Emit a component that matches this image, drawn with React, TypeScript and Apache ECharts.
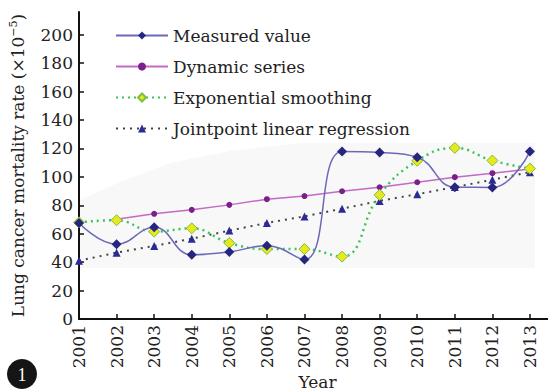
import React, { useEffect, useRef } from "react";
import * as echarts from "echarts";

const years = [2001, 2002, 2003, 2004, 2005, 2006, 2007, 2008, 2009, 2010, 2011, 2012, 2013];
const measured = [67.5, 52.6, 64.6, 45.2, 47.2, 51.6, 41.8, 117.8, 117.1, 113.8, 92.7, 92.6, 117.8];
const dynamicYears = [2002, 2003, 2004, 2005, 2006, 2007, 2008, 2009, 2010, 2011, 2012, 2013];
const dynamicSeries = [70.2, 74, 76.8, 80.3, 84.3, 86.5, 89.9, 92.7, 96.2, 99.8, 102.6, 105.6];
const expSmoothing = [68, 69.5, 61.5, 63.8, 53.5, 49.2, 49.2, 43.9, 87.3, 111.3, 120.4, 111.5, 105.8];
const jointpoint = [41, 46.7, 51.4, 56.5, 62.2, 67.6, 72.2, 77.6, 83.1, 87.8, 92.8, 98, 103.3];
const yTicks = [0, 20, 40, 60, 80, 100, 120, 140, 160, 180, 200];
const seriesNames = ["Measured value", "Dynamic series", "Exponential smoothing", "Jointpoint linear regression"];

const FONT = "'DejaVu Serif', 'Liberation Serif', serif";

export default function App() {
  const ref = useRef<HTMLDivElement>(null);
  useEffect(() => {
    if (!ref.current) return;
    const chart = echarts.init(ref.current, undefined, { renderer: "svg" });
    const pair = (xs: number[], vs: number[]) => xs.map((x, i) => [x, vs[i]]);
    chart.setOption({
      animation: false,
      backgroundColor: "#ffffff",
      textStyle: { fontFamily: FONT },
      grid: { left: 79, right: 0, top: 12, bottom: 72, containLabel: false, outerBoundsMode: "none" },
      legend: {
        orient: "vertical",
        left: 110,
        top: 22,
        itemWidth: 52,
        itemHeight: 10,
        itemGap: 14,
        data: seriesNames,
        textStyle: { fontFamily: FONT, fontSize: 17, color: "#222" },
      },
      graphic: [
        {
          type: "polygon",
          z: 0,
          silent: true,
          shape: {
            points: [
              [80, 200], [120, 182], [170, 163], [230, 151], [300, 143],
              [535, 143], [535, 268], [80, 268],
            ],
          },
          style: { fill: "#f8f8f8" },
        },
        {
          type: "circle",
          shape: { cx: 22, cy: 374, r: 15 },
          style: { fill: "#151515" },
        },
        {
          type: "text",
          x: 22,
          y: 375,
          style: {
            text: "1",
            fill: "#fff",
            font: `18px 'Liberation Serif', serif`,
            align: "center",
            verticalAlign: "middle",
          },
        },
      ],
      xAxis: {
        type: "value",
        min: 2001,
        max: 2013.48,
        interval: 1,
        name: "Year",
        nameLocation: "middle",
        nameGap: 54,
        nameMoveOverlap: false,
        nameTextStyle: { fontFamily: FONT, fontSize: 17, color: "#222", padding: [0, 0, 0, 8] },
        axisLine: { lineStyle: { color: "#111", width: 2 } },
        axisTick: { inside: true, length: 5, lineStyle: { color: "#111", width: 1.5 }, customValues: years },
        axisLabel: {
          rotate: 90,
          margin: 6,
          fontFamily: FONT,
          fontSize: 17,
          color: "#222",
          customValues: years,
          formatter: (v: number) => String(v),
        },
        splitLine: { show: false },
      },
      yAxis: {
        type: "value",
        min: 0,
        max: 216,
        interval: 20,
        name: "Lung cancer mortality rate (×10{sup|−5})",
        nameLocation: "middle",
        nameGap: 52,
        nameMoveOverlap: false,
        nameTextStyle: {
          fontFamily: FONT,
          fontSize: 17,
          color: "#222",
          rich: { sup: { fontFamily: FONT, fontSize: 11, color: "#222", verticalAlign: "top", padding: [0, 0, 8, 0] } },
        },
        axisLine: { show: true, lineStyle: { color: "#111", width: 2 } },
        axisTick: { show: true, inside: true, length: 5, lineStyle: { color: "#111", width: 1.5 }, customValues: yTicks },
        axisLabel: { margin: 6, fontFamily: FONT, fontSize: 17, color: "#222", customValues: yTicks },
        splitLine: { show: false },
      },
      series: [
        {
          name: seriesNames[0],
          type: "line",
          smooth: 0.45,
          data: pair(years, measured),
          symbol: "diamond",
          symbolSize: 10,
          itemStyle: { color: "#262680" },
          lineStyle: { color: "#6c68b8", width: 1.5 },
          z: 5,
        },
        {
          name: seriesNames[1],
          type: "line",
          data: pair(dynamicYears, dynamicSeries),
          symbol: "circle",
          symbolSize: 6,
          itemStyle: { color: "#7b1f8c" },
          lineStyle: { color: "#c36ac6", width: 1.5 },
          z: 3,
        },
        {
          name: seriesNames[2],
          type: "line",
          smooth: 0.45,
          data: pair(years, expSmoothing),
          symbol: "diamond",
          symbolSize: 11,
          itemStyle: { color: "#e8e81a", borderColor: "#7ac043", borderWidth: 1 },
          lineStyle: { color: "#3cc35a", width: 2.5, type: [2, 4] },
          z: 4,
        },
        {
          name: seriesNames[3],
          type: "line",
          data: pair(years, jointpoint),
          symbol: "triangle",
          symbolSize: 8,
          itemStyle: { color: "#2b2b96" },
          lineStyle: { color: "#444", width: 2, type: [2, 5] },
          z: 3,
        },
      ],
    });
    return () => chart.dispose();
  }, []);
  return <div ref={ref} style={{ width: 548, height: 391, position: "fixed", left: 0, top: 0 }} />;
}
